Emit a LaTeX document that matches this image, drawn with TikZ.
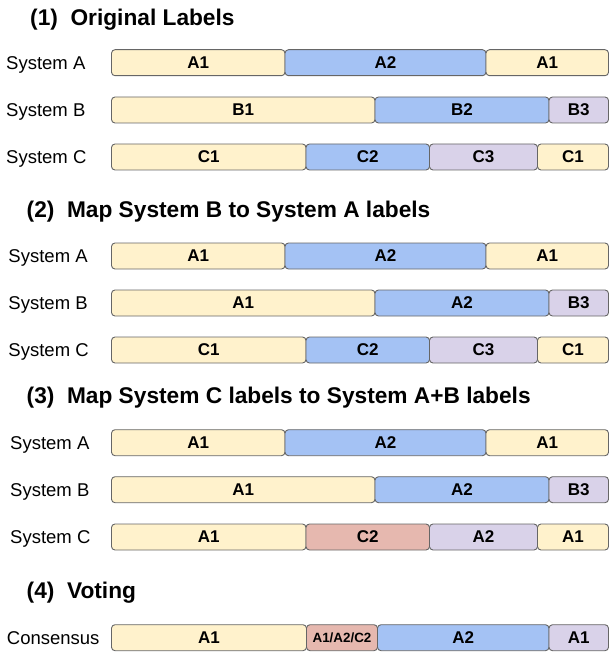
\documentclass[tikz,border=0pt]{standalone}
\usepackage{fontspec}
\setmainfont{Liberation Sans}
\usepackage{tikz}
\usepackage{xcolor}
\usetikzlibrary{positioning}
\definecolor{seg-yellow-fill}{HTML}{FFF2CC}
\definecolor{seg-blue-fill}{HTML}{A4C2F4}
\definecolor{seg-purple-fill}{HTML}{D9D2E9}
\definecolor{seg-red-fill}{HTML}{E6B8AF}
\definecolor{seg-line}{HTML}{666666}
\tikzset{
    seg-box/.style = {draw=seg-line, line width=0.9pt, rectangle, rounded corners=3.5pt, outer sep=0pt, inner sep=0pt, minimum height=26pt, font=\fontsize{17}{20}\selectfont\bfseries},
    seg-yellow/.style = {fill=seg-yellow-fill},
    seg-blue/.style = {fill=seg-blue-fill},
    seg-purple/.style = {fill=seg-purple-fill},
    seg-red/.style = {fill=seg-red-fill},
    row-label/.style = {anchor=west, inner sep=0pt, text height=13.2pt, text depth=0pt, font=\fontsize{18.5}{22}\selectfont},
    section-title/.style = {anchor=west, inner sep=0pt, text height=16.3pt, text depth=0pt, font=\fontsize{22.7}{27}\selectfont\bfseries},
}

\begin{document}
\begin{tikzpicture}[x=1pt, y=-1pt]
\useasboundingbox (0,0) rectangle (609,655);

% (1) original labels
\node[section-title] (t1) at (30,17) {(1)~~Original Labels};
\node[row-label] (l1a) at (6,62.7) {System A};
\node[seg-box, seg-yellow, minimum width=173.5pt, anchor=west] (s1a-1) at (111.5,62.7) {A1};
\node[seg-box, seg-blue, minimum width=201pt, right=0pt of s1a-1] (s1a-2) {A2};
\node[seg-box, seg-yellow, minimum width=122.5pt, right=0pt of s1a-2] (s1a-3) {A1};
\node[row-label] (l1b) at (6,110) {System B};
\node[seg-box, seg-yellow, minimum width=263.5pt, anchor=west] (s1b-1) at (111.5,110) {B1};
\node[seg-box, seg-blue, minimum width=174pt, right=0pt of s1b-1] (s1b-2) {B2};
\node[seg-box, seg-purple, minimum width=59.5pt, right=0pt of s1b-2] (s1b-3) {B3};
\node[row-label] (l1c) at (6,157) {System C};
\node[seg-box, seg-yellow, minimum width=194.5pt, anchor=west] (s1c-1) at (111.5,157) {C1};
\node[seg-box, seg-blue, minimum width=123.5pt, right=0pt of s1c-1] (s1c-2) {C2};
\node[seg-box, seg-purple, minimum width=108pt, right=0pt of s1c-2] (s1c-3) {C3};
\node[seg-box, seg-yellow, minimum width=71pt, right=0pt of s1c-3] (s1c-4) {C1};

% (2) B mapped onto A
\node[section-title] (t2) at (26.5,209.5) {(2)~~Map System B to System A labels};
\node[row-label] (l2a) at (8.3,256) {System A};
\node[seg-box, seg-yellow, minimum width=173.5pt, anchor=west] (s2a-1) at (111.5,256) {A1};
\node[seg-box, seg-blue, minimum width=201pt, right=0pt of s2a-1] (s2a-2) {A2};
\node[seg-box, seg-yellow, minimum width=122.5pt, right=0pt of s2a-2] (s2a-3) {A1};
\node[row-label] (l2b) at (8.3,303) {System B};
\node[seg-box, seg-yellow, minimum width=263.5pt, anchor=west] (s2b-1) at (111.5,303) {A1};
\node[seg-box, seg-blue, minimum width=174pt, right=0pt of s2b-1] (s2b-2) {A2};
\node[seg-box, seg-purple, minimum width=59.5pt, right=0pt of s2b-2] (s2b-3) {B3};
\node[row-label] (l2c) at (8.3,350) {System C};
\node[seg-box, seg-yellow, minimum width=194.5pt, anchor=west] (s2c-1) at (111.5,350) {C1};
\node[seg-box, seg-blue, minimum width=123.5pt, right=0pt of s2c-1] (s2c-2) {C2};
\node[seg-box, seg-purple, minimum width=108pt, right=0pt of s2c-2] (s2c-3) {C3};
\node[seg-box, seg-yellow, minimum width=71pt, right=0pt of s2c-3] (s2c-4) {C1};

% (3) C mapped onto A+B
\node[section-title] (t3) at (26.5,395.5) {(3)~~Map System C labels to System A+B labels};
\node[row-label] (l3a) at (10,442.7) {System A};
\node[seg-box, seg-yellow, minimum width=173.5pt, anchor=west] (s3a-1) at (111.5,442.7) {A1};
\node[seg-box, seg-blue, minimum width=201pt, right=0pt of s3a-1] (s3a-2) {A2};
\node[seg-box, seg-yellow, minimum width=122.5pt, right=0pt of s3a-2] (s3a-3) {A1};
\node[row-label] (l3b) at (10,489.7) {System B};
\node[seg-box, seg-yellow, minimum width=263.5pt, anchor=west] (s3b-1) at (111.5,489.7) {A1};
\node[seg-box, seg-blue, minimum width=174pt, right=0pt of s3b-1] (s3b-2) {A2};
\node[seg-box, seg-purple, minimum width=59.5pt, right=0pt of s3b-2] (s3b-3) {B3};
\node[row-label] (l3c) at (10,537) {System C};
\node[seg-box, seg-yellow, minimum width=194.5pt, anchor=west] (s3c-1) at (111.5,537) {A1};
\node[seg-box, seg-red, minimum width=123.5pt, right=0pt of s3c-1] (s3c-2) {C2};
\node[seg-box, seg-purple, minimum width=108pt, right=0pt of s3c-2] (s3c-3) {A2};
\node[seg-box, seg-yellow, minimum width=71pt, right=0pt of s3c-3] (s3c-4) {A1};

% (4) voting
\node[section-title] (t4) at (26.5,590.5) {(4)~~Voting};
\node[row-label] (l4) at (6.7,637.7) {Consensus};
\node[seg-box, seg-yellow, minimum width=195pt, anchor=west] (s4-1) at (111.5,637.7) {A1};
\node[seg-box, seg-red, minimum width=71pt, font=\fontsize{13.4}{16}\selectfont\bfseries, right=0pt of s4-1] (s4-2) {A1/A2/C2};
\node[seg-box, seg-blue, minimum width=171.5pt, right=0pt of s4-2] (s4-3) {A2};
\node[seg-box, seg-purple, minimum width=59.5pt, right=0pt of s4-3] (s4-4) {A1};
\end{tikzpicture}
\end{document}
